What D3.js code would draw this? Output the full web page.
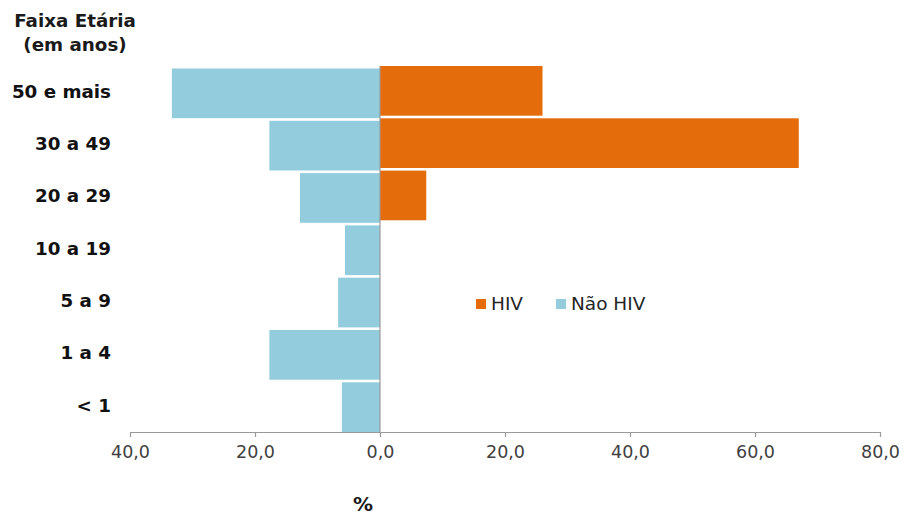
<!DOCTYPE html>
<html>
<head>
<meta charset="utf-8">
<script src="https://cdn.jsdelivr.net/npm/d3@7"></script>
<style>
  html, body { margin: 0; padding: 0; background: #fff; }
  svg { display: block; font-family: "DejaVu Sans", Verdana, sans-serif; }
</style>
</head>
<body>
<svg id="chart" width="904" height="516"></svg>
<script>
// Age groups, top to bottom
const categories = ["50 e mais", "30 a 49", "20 a 29", "10 a 19", "5 a 9", "1 a 4", "< 1"];
// Percentage of cases per age group
const hivValues    = [26.0, 67.0, 7.4, 0, 0, 0, 0];
const naoHivValues = [33.3, 17.7, 12.8, 5.6, 6.7, 17.7, 6.1];
const xTicks = [-40, -20, 0, 20, 40, 60, 80];
const seriesNames = ["HIV", "Não HIV"];
const colors = { "HIV": "#E46C0A", "Não HIV": "#93CDDD" };

const svg = d3.select("#chart");

const x = d3.scaleLinear().domain([-40, 80]).range([130, 880]);
const y = d3.scaleBand().domain(categories).range([68.5, 432]).paddingInner(0.05).paddingOuter(0);

// Não HIV bars extend to the left of zero
svg.append("g").selectAll("rect")
  .data(categories.map((c, i) => ({ c, v: naoHivValues[i] })))
  .join("rect")
  .attr("x", d => x(-d.v))
  .attr("y", d => y(d.c))
  .attr("width", d => x(0) - x(-d.v))
  .attr("height", y.bandwidth())
  .attr("fill", colors["Não HIV"]);

// HIV bars extend to the right of zero
svg.append("g").selectAll("rect")
  .data(categories.map((c, i) => ({ c, v: hivValues[i] })).filter(d => d.v > 0))
  .join("rect")
  .attr("x", x(0))
  .attr("y", d => y(d.c) - 2.5)
  .attr("width", d => x(d.v) - x(0))
  .attr("height", y.bandwidth())
  .attr("fill", colors["HIV"]);

// Zero line
svg.append("line")
  .attr("x1", x(0)).attr("x2", x(0))
  .attr("y1", 66).attr("y2", 432)
  .attr("stroke", "#9a9a9a").attr("stroke-width", 1.2);

// X axis
const fmt = v => Math.abs(v).toFixed(1).replace(".", ",");
const xAxis = svg.append("g")
  .attr("transform", "translate(0,432)")
  .call(d3.axisBottom(x).tickValues(xTicks).tickFormat(fmt).tickSize(5).tickSizeOuter(0).tickPadding(9));
xAxis.select(".domain").attr("stroke", "#9a9a9a").attr("stroke-width", 1.2);
xAxis.selectAll(".tick line").attr("stroke", "#9a9a9a").attr("stroke-width", 1.2);
xAxis.selectAll(".tick text")
  .attr("font-size", 17.5).attr("fill", "#404040")
  .attr("font-family", "'DejaVu Sans', Verdana, sans-serif");

// Category labels
svg.append("g").selectAll("text")
  .data(categories)
  .join("text")
  .attr("x", 111)
  .attr("y", d => y(d) + y.bandwidth() / 2 - 2)
  .attr("dy", "0.35em")
  .attr("text-anchor", "end")
  .attr("font-size", 18.3)
  .attr("font-weight", "bold")
  .attr("fill", "#111")
  .text(d => d);

// Axis title for categories
const title = svg.append("text")
  .attr("text-anchor", "middle")
  .attr("font-size", 18.3)
  .attr("font-weight", "bold")
  .attr("fill", "#1a1a1a");
title.append("tspan").attr("x", 75).attr("y", 27).text("Faixa Etária");
title.append("tspan").attr("x", 75).attr("y", 51).text("(em anos)");

// Unit label
svg.append("text")
  .attr("x", 363).attr("y", 511)
  .attr("text-anchor", "middle")
  .attr("font-size", 20)
  .attr("font-weight", "bold")
  .attr("fill", "#1a1a1a")
  .text("%");

// Legend
const legendItems = [{ name: seriesNames[0], x: 476 }, { name: seriesNames[1], x: 556 }];
const legend = svg.append("g").selectAll("g")
  .data(legendItems)
  .join("g")
  .attr("transform", d => `translate(${d.x},299)`);
legend.append("rect")
  .attr("width", 10).attr("height", 10)
  .attr("fill", d => colors[d.name]);
legend.append("text")
  .attr("x", 15).attr("y", 5)
  .attr("dy", "0.35em")
  .attr("font-size", 18.5)
  .attr("fill", "#262626")
  .text(d => d.name);
</script>
</body>
</html>
